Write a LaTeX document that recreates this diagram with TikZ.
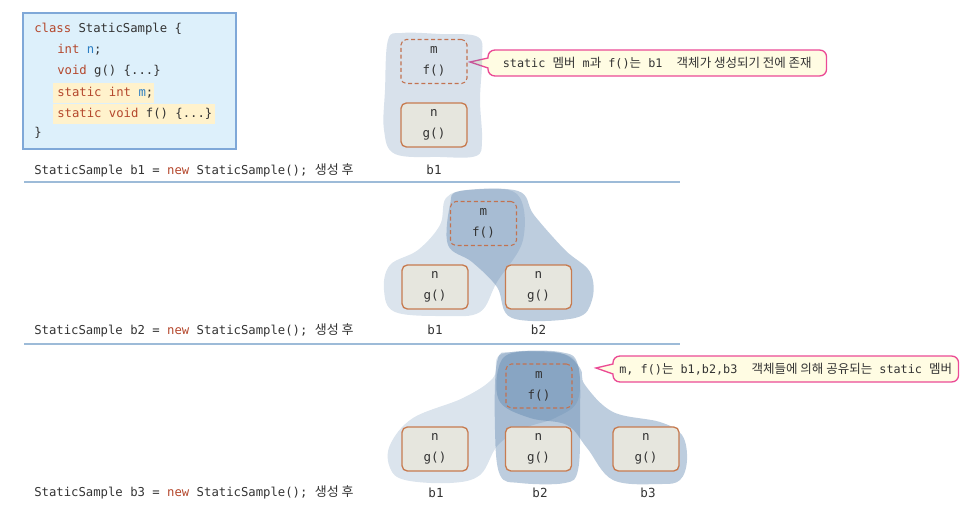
\documentclass[tikz,border=0pt]{standalone}
\usepackage{fontspec}
\setmainfont{DejaVu Sans Mono}
\newfontfamily\cjk[Scale=1.06]{Noto Sans CJK KR}
\usetikzlibrary{calc,backgrounds}
\definecolor{codefill}{HTML}{DDF0FB}
\definecolor{codeborder}{HTML}{7FA8D8}
\definecolor{hl}{HTML}{FFF2CC}
\definecolor{kw}{HTML}{B4472C}
\definecolor{var}{HTML}{2A7DC2}
\definecolor{txt}{HTML}{333333}
\definecolor{sep}{HTML}{9DBBD8}
\definecolor{boxfill}{HTML}{E6E6DE}
\definecolor{boxdraw}{HTML}{C77B50}
\definecolor{dashdraw}{HTML}{C27250}
\definecolor{callfill}{HTML}{FFFCE3}
\definecolor{calldraw}{HTML}{EB4A95}
\definecolor{blob}{HTML}{5A82AC}
\begin{document}
\begin{tikzpicture}[x=0.75pt,y=-0.75pt,
  every node/.style={text=txt},
  codetxt/.style={anchor=west,inner sep=0pt,font=\fontsize{9.2pt}{11pt}\selectfont},
  membox/.style={rounded corners=4pt,minimum width=49.5pt,minimum height=33pt,align=center,inner sep=0pt,font=\fontsize{9.4pt}{15.5pt}\selectfont},
  nbox/.style={membox,fill=boxfill,draw=boxdraw,line width=1pt},
  dbox/.style={membox,draw=dashdraw,dash pattern=on 3pt off 2pt,line width=0.8pt},
  objlbl/.style={inner sep=0pt,font=\fontsize{9.4pt}{11pt}\selectfont},
  ctext/.style={anchor=west,inner xsep=0pt,inner ysep=0pt,minimum height=19pt,font=\fontsize{8.85pt}{11pt}\selectfont},
  callout/.style={fill=callfill,draw=calldraw,line width=1pt},
  sepline/.style={draw=sep,line width=0.9pt},
  blobA/.style={fill=blob,fill opacity=0.22},
  blobB/.style={fill=blob,fill opacity=0.40}]
\useasboundingbox (0,0) rectangle (973,520);

% code box
\draw[fill=codefill,draw=codeborder,line width=1pt] (23,13) rectangle (236,149);
\fill[hl] (53,83) rectangle (154,103);
\fill[hl] (53,104) rectangle (215,124);
\node[codetxt] (k1) at (34,29) {{\color{kw}class} StaticSample \{};
\node[codetxt] (k2) at (57,50) {{\color{kw}int} {\color{var}n};};
\node[codetxt] (k3) at (57,71) {{\color{kw}void} g() \{...\}};
\node[codetxt] (k4) at (57,92.5) {{\color{kw}static int} {\color{var}m};};
\node[codetxt] (k5) at (57,113.5) {{\color{kw}static void} f() \{...\}};
\node[codetxt] (k6) at (34,133) {\}};

% labels
\node[codetxt] (s1) at (34,170) {StaticSample b1 = {\color{kw}new} StaticSample(); {\cjk 생성 후}};
\node[codetxt] (s2) at (34,330) {StaticSample b2 = {\color{kw}new} StaticSample(); {\cjk 생성 후}};
\node[codetxt] (s3) at (34,492) {StaticSample b3 = {\color{kw}new} StaticSample(); {\cjk 생성 후}};
\draw[sepline] (24,182) -- (680,182);
\draw[sepline] (24,344) -- (680,344);

% ---- panel 1
\fill[fill=blob,fill opacity=0.24] plot[smooth cycle,tension=0.6] coordinates {(388,40) (402,33) (440,34) (478,37) (482,60) (480,100) (482,140) (476,156) (440,157) (395,154) (384,130) (385,90)};
\node[dbox] (m1) at (434,61.5) {m\\f()};
\node[nbox] (n1) at (434,125) {n\\g()};
\node[objlbl] (l1) at (434,170) {b1};
\coordinate (t1) at (470,62);
\node[ctext,minimum width=253.5pt] (c1) at (488,63) {static {\cjk 멤버} m{\cjk 과} f(){\cjk 는} b1\ \ {\cjk 객체가 생성되기 전에 존재}};
\begin{scope}[on background layer]
\draw[callout] (t1) -- ($(c1.west)+(0,-5)$) {[rounded corners=5pt] -- (c1.north west) -- (c1.north east) -- (c1.south east) -- (c1.south west)} -- ($(c1.west)+(0,5)$) -- cycle;
\end{scope}

% ---- panel 2
\fill[blobA] plot[smooth cycle,tension=0.6] coordinates {(390,265) (418,250) (440,225) (446,198) (470,190) (517,194) (523,240) (497,282) (480,312) (445,316) (395,312) (384,290)};
\fill[blobB] plot[smooth cycle,tension=0.6] coordinates {(450,205) (460,191) (518,191) (534,215) (565,250) (590,272) (592,300) (575,318) (512,318) (497,287) (472,262) (448,245)};
\node[dbox] (m2) at (483.5,223.5) {m\\f()};
\node[nbox] (n21) at (435,287) {n\\g()};
\node[nbox] (n22) at (538.5,287) {n\\g()};
\node[objlbl] (l21) at (435,330) {b1};
\node[objlbl] (l22) at (538.5,330) {b2};

% ---- panel 3
\fill[blobA] plot[smooth cycle,tension=0.6] coordinates {(390,445) (413,418) (463,398) (493,378) (500,355) (540,352) (575,360) (578,400) (555,418) (525,428) (498,445) (480,475) (450,483) (405,480) (390,468)};
\fill[blobB] plot[smooth cycle,tension=0.6] coordinates {(497,362) (512,352) (560,352) (578,365) (580,420) (578,470) (565,483) (520,483) (500,475) (495,430)};
\fill[blobB] plot[smooth cycle,tension=0.6] coordinates {(498,370) (512,353) (560,353) (580,368) (585,385) (613,412) (660,422) (682,435) (687,460) (680,480) (660,484) (613,480) (587,448) (567,425) (530,418) (500,402)};
\node[dbox] (m3) at (539,386) {m\\f()};
\node[nbox] (n31) at (435,449) {n\\g()};
\node[nbox] (n32) at (538.5,449) {n\\g()};
\node[nbox] (n33) at (646,449) {n\\g()};
\node[objlbl] (l31) at (436,493) {b1};
\node[objlbl] (l32) at (540,493) {b2};
\node[objlbl] (l33) at (648,493) {b3};
\coordinate (t3) at (596,368);
\node[ctext,minimum width=258.75pt] (c3) at (613,369) {m, f(){\cjk 는} b1,b2,b3\ \ {\cjk 객체들에 의해 공유되는} static {\cjk 멤버}};
\begin{scope}[on background layer]
\draw[callout] (t3) -- ($(c3.west)+(0,-5)$) {[rounded corners=5pt] -- (c3.north west) -- (c3.north east) -- (c3.south east) -- (c3.south west)} -- ($(c3.west)+(0,5)$) -- cycle;
\end{scope}
\end{tikzpicture}
\end{document}
